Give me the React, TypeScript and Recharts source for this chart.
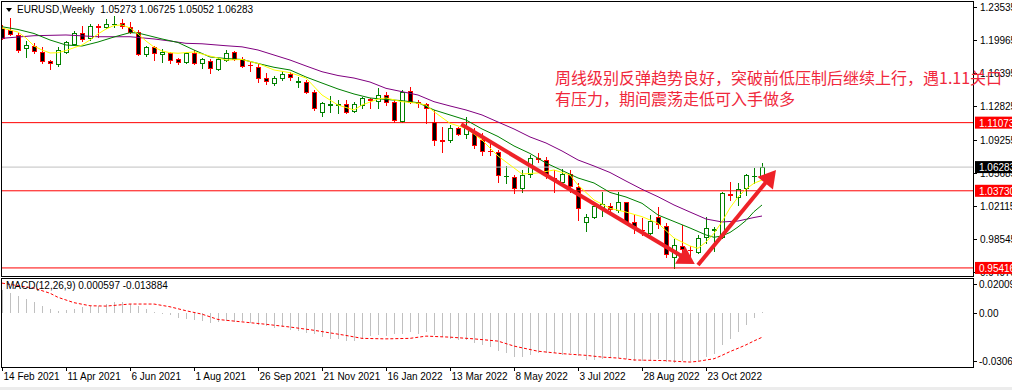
import { ComposedChart, Bar, Line, XAxis, YAxis, ReferenceLine } from 'recharts';

const FONT = '"Liberation Sans", Arial, sans-serif';

// weekly bars, first one = week of 14 Feb 2021
const dateLabels = [
  '14 Feb 2021', '11 Apr 2021', '6 Jun 2021', '1 Aug 2021', '26 Sep 2021', '21 Nov 2021',
  '16 Jan 2022', '13 Mar 2022', '8 May 2022', '3 Jul 2022', '28 Aug 2022', '23 Oct 2022',
];

const opens = [
  1.2127, 1.2106, 1.2057, 1.1912, 1.1933, 1.1869, 1.1775, 1.1739, 1.1869, 1.1955,
  1.2077, 1.2016, 1.2154, 1.2135, 1.2167, 1.2184, 1.2141, 1.2087, 1.1844, 1.1919,
  1.1847, 1.1861, 1.1790, 1.1758, 1.1855, 1.1747, 1.1775, 1.1682, 1.1782, 1.1865,
  1.1793, 1.1732, 1.1710, 1.1585, 1.1538, 1.1585, 1.1631, 1.1545, 1.1542, 1.1441,
  1.1225, 1.1302, 1.1302, 1.1305, 1.1233, 1.1297, 1.1362, 1.1344, 1.1405, 1.1333,
  1.1128, 1.1452, 1.1330, 1.1308, 1.1117, 1.0916, 1.0920, 1.1053, 1.0985, 1.1010,
  1.0920, 1.0805, 1.0794, 1.0529, 1.0525, 1.0400, 1.0554, 1.0726, 1.0705, 1.0511,
  1.0471, 1.0551, 1.0411, 1.0033, 1.0087, 1.0202, 1.0209, 1.0166, 1.0249, 1.0033,
  0.9954, 0.9915, 1.0094, 0.9997, 0.9663, 0.9781, 0.9738, 0.9717, 0.9872, 0.9955,
  0.9872, 1.0338, 1.0309, 1.0401, 1.0529, 1.05273,
];
const highs = [
  1.2159, 1.2235, 1.2073, 1.1987, 1.1966, 1.1922, 1.1782, 1.1922, 1.1987, 1.2098,
  1.2149, 1.2170, 1.2170, 1.2221, 1.2256, 1.2221, 1.2189, 1.2106, 1.1933, 1.1933,
  1.1898, 1.1872, 1.1807, 1.1872, 1.1890, 1.1801, 1.1790, 1.1801, 1.1890, 1.1879,
  1.1818, 1.1764, 1.1739, 1.1639, 1.1610, 1.1664, 1.1656, 1.1602, 1.1567, 1.1459,
  1.1333, 1.1394, 1.1351, 1.1351, 1.1333, 1.1387, 1.1370, 1.1477, 1.1441, 1.1351,
  1.1459, 1.1495, 1.1351, 1.1322, 1.1244, 1.1064, 1.1082, 1.1064, 1.1171, 1.1053,
  1.0992, 1.0885, 1.0812, 1.0640, 1.0543, 1.0597, 1.0759, 1.0777, 1.0740, 1.0597,
  1.0604, 1.0597, 1.0454, 1.0123, 1.0227, 1.0363, 1.0238, 1.0363, 1.0255, 1.0112,
  1.0076, 1.0112, 1.0202, 1.0023, 0.9850, 1.0004, 0.9778, 0.9897, 1.0094, 0.9983,
  1.0363, 1.0471, 1.0454, 1.0554, 1.0616, 1.06725,
];
const lows = [
  1.2009, 1.2052, 1.1869, 1.1815, 1.1858, 1.1750, 1.1685, 1.1718, 1.1858, 1.1944,
  1.1990, 1.1998, 1.2030, 1.2124, 1.2135, 1.2124, 1.2070, 1.1836, 1.1829, 1.1782,
  1.1764, 1.1753, 1.1736, 1.1747, 1.1739, 1.1693, 1.1646, 1.1675, 1.1772, 1.1782,
  1.1710, 1.1667, 1.1549, 1.1520, 1.1513, 1.1567, 1.1567, 1.1495, 1.1424, 1.1244,
  1.1179, 1.1225, 1.1214, 1.1214, 1.1225, 1.1262, 1.1262, 1.1268, 1.1298, 1.1111,
  1.1118, 1.1316, 1.1273, 1.1100, 1.0866, 1.0794, 1.0896, 1.0974, 1.0939, 1.0831,
  1.0759, 1.0759, 1.0471, 1.0454, 1.0346, 1.0363, 1.0525, 1.0687, 1.0507, 1.0363,
  1.0454, 1.0363, 1.0058, 0.9943, 1.0076, 1.0105, 1.0130, 1.0148, 1.0022, 0.9915,
  0.9897, 0.9907, 0.9969, 0.9663, 0.9538, 0.9717, 0.9627, 0.9699, 0.9807, 0.9727,
  0.9861, 1.0274, 1.0220, 1.0328, 1.0454, 1.05052,
];
const closes = [
  1.2019, 1.2063, 1.1895, 1.1944, 1.1883, 1.1772, 1.1747, 1.1890, 1.1976, 1.2077,
  1.2005, 1.2149, 1.2143, 1.2167, 1.2172, 1.2152, 1.2087, 1.1844, 1.1919, 1.1855,
  1.1865, 1.1782, 1.1758, 1.1861, 1.1747, 1.1790, 1.1693, 1.1793, 1.1861, 1.1793,
  1.1718, 1.1725, 1.1585, 1.1559, 1.1592, 1.1628, 1.1602, 1.1552, 1.1434, 1.1268,
  1.1316, 1.1308, 1.1308, 1.1225, 1.1308, 1.1370, 1.1356, 1.1405, 1.1327, 1.1136,
  1.1441, 1.1333, 1.1323, 1.1262, 1.0920, 1.0910, 1.1046, 1.0985, 1.1064, 1.0866,
  1.0802, 1.0799, 1.0543, 1.0536, 1.0400, 1.0543, 1.0723, 1.0720, 1.0543, 1.0504,
  1.0551, 1.0425, 1.0184, 1.0087, 1.0209, 1.0231, 1.0177, 1.0249, 1.0040, 0.9993,
  0.9947, 1.0047, 1.0015, 0.9689, 0.9789, 0.9742, 0.9732, 0.9861, 0.9969, 0.9961,
  1.0346, 1.0332, 1.0389, 1.0543, 1.0536, 1.06283,
];

// moving averages: [bar index, value]
const maFast: [number, number][] = [
  [0, 1.2127], [2, 1.2084], [3, 1.2019], [4, 1.1933], [5, 1.1890], [6, 1.1858], [7, 1.1861],
  [8, 1.1885], [10, 1.1944], [11, 1.1998], [12, 1.2063], [13, 1.2116], [14, 1.2154], [15, 1.2160],
  [16, 1.2127], [17, 1.2063], [18, 1.1987], [19, 1.1922], [20, 1.1879], [21, 1.1861], [22, 1.1855],
  [24, 1.1869], [26, 1.1825], [28, 1.1782], [30, 1.1788], [32, 1.1745], [34, 1.1675], [36, 1.1646],
  [38, 1.1588], [40, 1.1405], [42, 1.1297], [44, 1.1244], [45, 1.1297], [47, 1.1362], [48, 1.1373],
  [50, 1.1333], [52, 1.1316], [53, 1.1297], [54, 1.1225], [56, 1.1100], [58, 1.1046], [60, 1.0920],
  [62, 1.0748], [64, 1.0619], [65, 1.0554], [67, 1.0565], [69, 1.0597], [71, 1.0543], [72, 1.0435],
  [74, 1.0274], [76, 1.0184], [78, 1.0144], [80, 1.0094], [82, 1.0023], [84, 0.9864], [86, 0.9778],
  [87, 0.9753], [88, 0.9821], [89, 0.9915], [90, 1.0040], [91, 1.0188], [92, 1.0306], [93, 1.0392],
  [94, 1.0454], [95, 1.0489],
];
const maMid: [number, number][] = [
  [0, 1.2141], [2, 1.2111], [4, 1.2068], [6, 1.1998], [8, 1.1944], [10, 1.1933], [12, 1.1976],
  [14, 1.2030], [16, 1.2077], [17, 1.2073], [18, 1.2052], [20, 1.2009], [22, 1.1971], [24, 1.1890],
  [26, 1.1815], [28, 1.1798], [30, 1.1788], [32, 1.1745], [34, 1.1704], [36, 1.1675], [38, 1.1599],
  [40, 1.1534], [42, 1.1470], [44, 1.1416], [46, 1.1373], [48, 1.1357], [50, 1.1344], [52, 1.1322],
  [54, 1.1244], [56, 1.1190], [58, 1.1136], [60, 1.1039], [62, 1.0958], [64, 1.0856], [66, 1.0775],
  [68, 1.0672], [70, 1.0592], [72, 1.0511], [74, 1.0457], [76, 1.0355], [78, 1.0306], [80, 1.0238],
  [82, 1.0112], [84, 1.0042], [86, 0.9972], [88, 0.9897], [89, 0.9872], [90, 0.9886], [91, 0.9924],
  [92, 0.9983], [93, 1.0053], [94, 1.0148], [95, 1.0220],
];
const maSlow: [number, number][] = [
  [0, 1.2016], [4, 1.2044], [8, 1.2052], [12, 1.2033], [16, 1.2033], [19, 1.2009], [21, 1.1987],
  [23, 1.1962], [25, 1.1957], [28, 1.1936], [30, 1.1924], [32, 1.1890], [34, 1.1836], [36, 1.1782],
  [38, 1.1718], [40, 1.1656], [42, 1.1615], [44, 1.1588], [46, 1.1545], [48, 1.1477], [52, 1.1405],
  [54, 1.1333], [56, 1.1287], [58, 1.1244], [60, 1.1190], [62, 1.1114], [64, 1.1039], [66, 1.0953],
  [68, 1.0888], [70, 1.0802], [72, 1.0705], [74, 1.0640], [76, 1.0570], [78, 1.0478], [80, 1.0389],
  [82, 1.0309], [84, 1.0220], [86, 1.0144], [88, 1.0069], [90, 1.0037], [92, 1.0047], [94, 1.0085],
  [95, 1.0101],
];

const macdMain = [
  0.0138, 0.0122, 0.0102, 0.0087, 0.0065, 0.0043, 0.0025, 0.0016, 0.0020, 0.0028,
  0.0035, 0.0045, 0.0045, 0.0053, 0.0065, 0.0065, 0.0057, 0.0045, 0.0025, 0.0010,
  0.0001, -0.0008, -0.0024, -0.0030, -0.0037, -0.0043, -0.0055, -0.0049, -0.0045, -0.0049,
  -0.0045, -0.0055, -0.0065, -0.0075, -0.0085, -0.0081, -0.0094, -0.0100, -0.0112, -0.0120,
  -0.0140, -0.0151, -0.0151, -0.0163, -0.0159, -0.0148, -0.0134, -0.0128, -0.0130, -0.0118,
  -0.0118, -0.0110, -0.0118, -0.0108, -0.0128, -0.0138, -0.0148, -0.0157, -0.0157, -0.0173,
  -0.0181, -0.0193, -0.0216, -0.0232, -0.0256, -0.0256, -0.0240, -0.0228, -0.0232, -0.0228,
  -0.0240, -0.0228, -0.0248, -0.0271, -0.0271, -0.0267, -0.0262, -0.0258, -0.0267, -0.0277,
  -0.0277, -0.0273, -0.0267, -0.0281, -0.0287, -0.0277, -0.0277, -0.0277, -0.0254, -0.0234,
  -0.0183, -0.0146, -0.0106, -0.0065, -0.0028, 0.000597,
];
const macdSignal: [number, number][] = [
  [0, 0.0177], [2, 0.0162], [4, 0.0148], [6, 0.0118], [7, 0.0094], [9, 0.0063], [11, 0.0045],
  [13, 0.0043], [16, 0.0055], [19, 0.0055], [21, 0.0039], [23, 0.0016], [25, -0.0004], [27, -0.0035],
  [30, -0.0049], [33, -0.0063], [36, -0.0079], [39, -0.0098], [43, -0.0128], [45, -0.0145],
  [48, -0.0148], [51, -0.0145], [53, -0.0132], [56, -0.0138], [59, -0.0148], [62, -0.0161],
  [64, -0.0190], [67, -0.0220], [70, -0.0234], [73, -0.0244], [75, -0.0254], [77, -0.0260],
  [79, -0.0271], [81, -0.0273], [83, -0.0275], [85, -0.0281], [86, -0.0283], [87, -0.0279],
  [88, -0.0271], [89, -0.0264], [90, -0.0244], [91, -0.0222], [92, -0.0203], [93, -0.0183],
  [94, -0.0160], [95, -0.013884],
];

const priceTicks = [1.23535, 1.19965, 1.16395, 1.12825, 1.09255, 1.05685, 1.02115, 0.98545, 0.94975];
const levelPrices = [1.11073, 1.0373, 0.95416];
const lastPrice = 1.06283;
const macdTicks = [0.02009, 0, -0.03061];

const arrowDown: [number, number][] = [[57.4, 1.1089], [86.6, 0.9584]];
const arrowUp: [number, number][] = [[87, 0.9573], [96.75, 1.0597]];

const headerText = 'EURUSD,Weekly  1.05273 1.06725 1.05052 1.06283';
const macdText = 'MACD(12,26,9) 0.000597 -0.013884';
const noteLines = ['周线级别反弹趋势良好，突破前低压制后继续上行，遇1.11关口', '有压力，期间震荡走低可入手做多'];

const xDomain = [-0.125, 121.375];
const priceDomain = [0.94547, 1.24181];
const macdDomain = [-0.03061, 0.02009];

type Row = {
  i: number; o: number; h: number; l: number; c: number; range: number[];
  fast: number | null; mid: number | null; slow: number | null; macd: number; signal: number | null;
};

const rows: Row[] = opens.map((o, i) => ({
  i, o, h: highs[i], l: lows[i], c: closes[i], range: [lows[i], highs[i]],
  fast: null, mid: null, slow: null, macd: macdMain[i], signal: null,
}));
maFast.forEach(([i, v]) => { rows[i].fast = v; });
maMid.forEach(([i, v]) => { rows[i].mid = v; });
maSlow.forEach(([i, v]) => { rows[i].slow = v; });
macdSignal.forEach(([i, v]) => { rows[i].signal = v; });

function Candle(props: any) {
  const { x, y, width, height, payload } = props;
  if (x == null || payload == null) return null;
  const { o, h, l, c } = payload;
  const top = height < 0 ? y + height : y;
  const hh = Math.abs(height);
  const span = h - l || 1e-9;
  const py = (v: number) => top + ((h - v) / span) * hh;
  const cx = Math.round(x + width / 2);
  const up = c >= o;
  const col = up ? '#008000' : '#ff0000';
  const bt = Math.round(py(Math.max(o, c)));
  const bb = Math.round(py(Math.min(o, c)));
  return (
    <g>
      <line x1={cx + 0.5} x2={cx + 0.5} y1={Math.round(top)} y2={Math.round(top + hh) + 1} stroke={col} />
      {bb - bt < 1 ? (
        <line x1={cx - 2} x2={cx + 3} y1={bt + 0.5} y2={bt + 0.5} stroke={col} />
      ) : (
        <rect x={cx - 1.5} y={bt + 0.5} width={4} height={bb - bt} fill={up ? '#ffffff' : '#000000'} stroke={col} />
      )}
    </g>
  );
}

function HistBar(props: any) {
  const { x, y, width, height } = props;
  if (x == null) return null;
  const cx = Math.round(x + width / 2);
  const y1 = Math.round(Math.min(y, y + height));
  const y2 = Math.round(Math.max(y, y + height));
  return <rect x={cx} y={y1} width={1} height={Math.max(1, y2 - y1)} fill="#c0c0c0" />;
}

function Arrow(p: any) {
  const { x1, y1, x2, y2 } = p;
  if (x1 == null) return null;
  const dx = x2 - x1;
  const dy = y2 - y1;
  const len = Math.hypot(dx, dy) || 1;
  const ux = dx / len;
  const uy = dy / len;
  const headL = 17;
  const headW = 10;
  const bx = x2 - ux * headL;
  const by = y2 - uy * headL;
  const pts = `${x2},${y2} ${bx - uy * headW},${by + ux * headW} ${bx + uy * headW},${by - ux * headW}`;
  return (
    <g>
      <line x1={x1} y1={y1} x2={bx + ux * 3} y2={by + uy * 3} stroke="#ee2228" strokeWidth={4} />
      <polygon points={pts} fill="#ee2228" />
    </g>
  );
}

function PriceTick(props: any) {
  const { x, y, payload } = props;
  const v: number = payload.value;
  const txt = v.toFixed(5);
  const isLevel = levelPrices.includes(v);
  const isLast = v === lastPrice;
  if (isLevel || isLast) {
    return (
      <g>
        <rect x={x + 2} y={y - 6} width={40} height={12} fill={isLast ? '#000000' : '#ff0000'} />
        <text x={x + 6} y={y + 4} fontSize={10} fontFamily={FONT} fill="#ffffff">{txt}</text>
      </g>
    );
  }
  return (
    <g>
      <line x1={x} x2={x + 4} y1={Math.round(y) + 0.5} y2={Math.round(y) + 0.5} stroke="#000" />
      <text x={x + 7} y={y + 4} fontSize={10} fontFamily={FONT} fill="#000">{txt}</text>
    </g>
  );
}

function MacdTick(props: any) {
  const { x, y, payload } = props;
  const v: number = payload.value;
  const shift = v === macdTicks[0] ? 5 : v === macdTicks[2] ? -5 : 0;
  const yy = Math.round(y + shift) + 0.5;
  return (
    <g>
      <line x1={x} x2={x + 4} y1={yy} y2={yy} stroke="#000" />
      <text x={x + 6} y={yy + 3.5} fontSize={10} fontFamily={FONT} fill="#000">
        {v === 0 ? '0.00' : String(v)}
      </text>
    </g>
  );
}

function DateTick(props: any) {
  const { x, y, payload } = props;
  const label = dateLabels[Math.round(payload.value / 8)];
  const xx = Math.round(x) + 0.5;
  return (
    <g>
      <line x1={xx} x2={xx} y1={y + 1} y2={y + 5} stroke="#000" />
      <text x={xx + 1} y={y + 14} fontSize={10} fontFamily={FONT} fill="#000">{label}</text>
    </g>
  );
}

export default function App() {
  return (
    <div style={{ position: 'absolute', left: 0, top: 0, width: 1012, height: 390, background: '#fff', overflow: 'hidden', fontFamily: FONT }}>
      <div style={{ position: 'absolute', left: 0, top: 0 }}>
        <ComposedChart width={1012} height={277} data={rows} margin={{ top: 1, right: 0, bottom: 1, left: 1 }}>
          <XAxis type="number" dataKey="i" domain={xDomain} allowDataOverflow hide />
          <YAxis
            type="number"
            orientation="right"
            width={39}
            domain={priceDomain}
            allowDataOverflow
            ticks={[...priceTicks, lastPrice, ...levelPrices]}
            interval={0}
            tick={<PriceTick />}
            tickLine={false}
            axisLine={false}
            tickSize={0}
            tickMargin={0}
          />
          <ReferenceLine y={lastPrice} stroke="#c0c0c0" />
          {levelPrices.map((p) => (
            <ReferenceLine key={p} y={p} stroke="#ff0000" />
          ))}
          <Bar dataKey="range" barSize={5} shape={<Candle />} isAnimationActive={false} />
          <Line dataKey="slow" stroke="#800080" dot={false} activeDot={false} connectNulls isAnimationActive={false} />
          <Line dataKey="mid" stroke="#008000" dot={false} activeDot={false} connectNulls isAnimationActive={false} />
          <Line dataKey="fast" stroke="#ffff00" dot={false} activeDot={false} connectNulls isAnimationActive={false} />
          <ReferenceLine segment={[{ x: arrowDown[0][0], y: arrowDown[0][1] }, { x: arrowDown[1][0], y: arrowDown[1][1] }]} shape={Arrow} />
          <ReferenceLine segment={[{ x: arrowUp[0][0], y: arrowUp[0][1] }, { x: arrowUp[1][0], y: arrowUp[1][1] }]} shape={Arrow} />
        </ComposedChart>
      </div>

      <div style={{ position: 'absolute', left: 0, top: 278 }}>
        <ComposedChart width={1012} height={112} data={rows} margin={{ top: 1, right: 0, bottom: 0, left: 1 }}>
          <XAxis
            type="number"
            dataKey="i"
            domain={xDomain}
            allowDataOverflow
            ticks={dateLabels.map((_, j) => j * 8)}
            interval={0}
            height={24}
            tick={<DateTick />}
            tickLine={false}
            axisLine={false}
            tickSize={0}
            tickMargin={0}
          />
          <YAxis
            type="number"
            orientation="right"
            width={39}
            domain={macdDomain}
            allowDataOverflow
            ticks={macdTicks}
            interval={0}
            tick={<MacdTick />}
            tickLine={false}
            axisLine={false}
            tickSize={0}
            tickMargin={0}
          />
          <Bar dataKey="macd" barSize={2} shape={<HistBar />} isAnimationActive={false} />
          <Line dataKey="signal" stroke="#ff0000" strokeDasharray="3 2" dot={false} activeDot={false} connectNulls isAnimationActive={false} />
        </ComposedChart>
      </div>

      {/* panel frames */}
      <div style={{ position: 'absolute', left: 1, top: 1, width: 973, height: 276, border: '1px solid #000', boxSizing: 'border-box', pointerEvents: 'none' }} />
      <div style={{ position: 'absolute', left: 1, top: 278, width: 973, height: 90, border: '1px solid #000', boxSizing: 'border-box', pointerEvents: 'none' }} />
      <div style={{ position: 'absolute', left: 0, top: 387, width: 1012, height: 3, background: '#ececec' }} />

      {/* header */}
      <div style={{ position: 'absolute', left: 6, top: 8, width: 0, height: 0, borderLeft: '3.5px solid transparent', borderRight: '3.5px solid transparent', borderTop: '4px solid #000' }} />
      <div style={{ position: 'absolute', left: 17, top: 4, fontSize: 10, lineHeight: '12px', color: '#000', whiteSpace: 'pre' }}>{headerText}</div>
      <div style={{ position: 'absolute', left: 6, top: 280, fontSize: 10, lineHeight: '12px', color: '#000', whiteSpace: 'pre' }}>{macdText}</div>

      {/* annotation */}
      <div style={{ position: 'absolute', left: 555, top: 67, fontSize: 16, lineHeight: '21px', color: '#f0283c', fontFamily: '"Noto Sans CJK SC", sans-serif', whiteSpace: 'pre' }}>
        {noteLines.map((t) => (
          <div key={t}>{t}</div>
        ))}
      </div>
    </div>
  );
}
